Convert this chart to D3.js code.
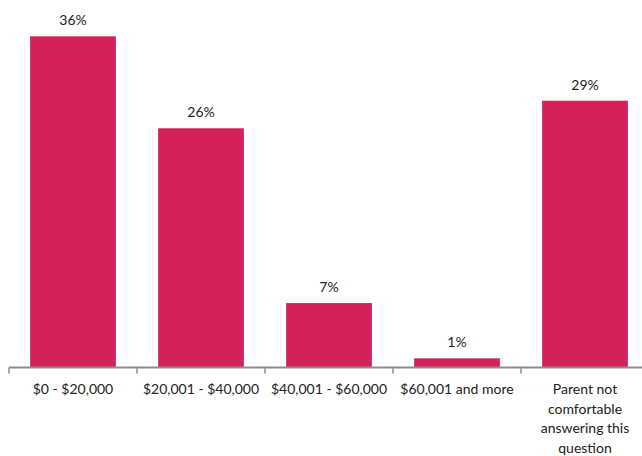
<!DOCTYPE html>
<html>
<head>
<meta charset="utf-8">
<script src="https://cdn.jsdelivr.net/npm/d3@7"></script>
<style>
  html, body { margin: 0; padding: 0; background: #fff; }
  svg { display: block; font-family: Lato, "Open Sans", sans-serif; }
</style>
</head>
<body>
<svg id="chart" width="642" height="456"></svg>
<script>
const categories = [
  "$0 - $20,000",
  "$20,001 - $40,000",
  "$40,001 - $60,000",
  "$60,001 and more",
  "Parent not comfortable answering this question"
];
const categoryLines = [
  ["$0 - $20,000"],
  ["$20,001 - $40,000"],
  ["$40,001 - $60,000"],
  ["$60,001 and more"],
  ["Parent not", "comfortable", "answering this", "question"]
];
const values = [36, 26, 7, 1, 29];
const valueLabels = ["36%", "26%", "7%", "1%", "29%"];

const svg = d3.select("#chart");
const baseY = 367.5;

const x = d3.scaleBand()
  .domain(categories)
  .range([9, 649])
  .paddingInner(0.33)
  .paddingOuter(0.165);

const y = d3.scaleLinear()
  .domain([0, 40])
  .range([baseY, -0.5]);

// bars
svg.append("g")
  .selectAll("rect")
  .data(values)
  .join("rect")
  .attr("x", (d, i) => x(categories[i]))
  .attr("y", d => y(d))
  .attr("width", x.bandwidth())
  .attr("height", d => baseY - y(d))
  .attr("fill", "#D22257");

// value labels
svg.append("g")
  .selectAll("text")
  .data(values)
  .join("text")
  .attr("x", (d, i) => x(categories[i]) + x.bandwidth() / 2)
  .attr("y", d => y(d) - 11)
  .attr("text-anchor", "middle")
  .attr("font-size", 14)
  .attr("fill", "#222")
  .text((d, i) => valueLabels[i]);

// category axis: baseline with ticks at band boundaries
const axisG = svg.append("g");
axisG.append("line")
  .attr("x1", 9).attr("x2", 642)
  .attr("y1", baseY).attr("y2", baseY)
  .attr("stroke", "#8c8c8c").attr("stroke-width", 2);
axisG.selectAll("line.tick")
  .data(categories)
  .join("line")
  .attr("class", "tick")
  .attr("x1", d => x(d) - x.step() * x.paddingOuter())
  .attr("x2", d => x(d) - x.step() * x.paddingOuter())
  .attr("y1", baseY)
  .attr("y2", baseY + 6)
  .attr("stroke", "#8c8c8c").attr("stroke-width", 1.5);

const labelG = svg.append("g");
categories.forEach((c, i) => {
  const t = labelG.append("text")
    .attr("x", x(c) + x.bandwidth() / 2)
    .attr("y", 394)
    .attr("text-anchor", "middle")
    .attr("font-size", 14)
    .attr("fill", "#222");
  categoryLines[i].forEach((line, j) => {
    t.append("tspan")
      .attr("x", x(c) + x.bandwidth() / 2)
      .attr("dy", j === 0 ? 0 : 19.5)
      .text(line);
  });
});
</script>
</body>
</html>
